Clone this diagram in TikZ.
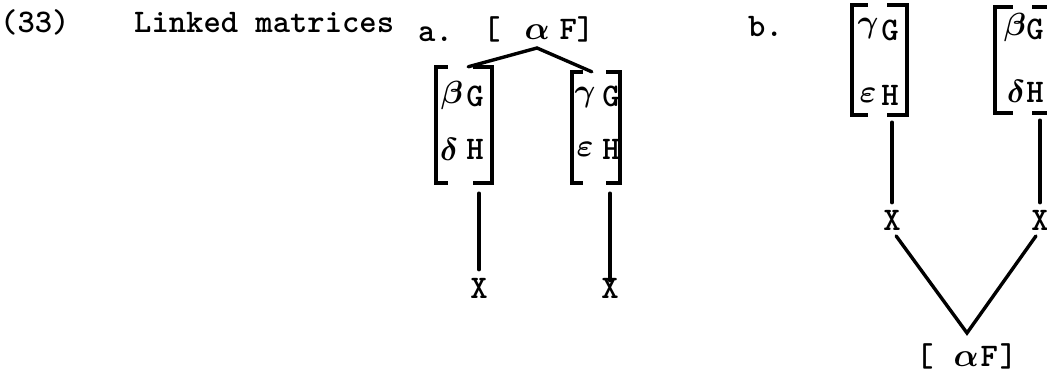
\RequirePackage{fix-cm}
\documentclass[tikz,border=0pt]{standalone}
\usepackage{fontspec}
\usepackage{bm}
\newfontfamily\tw{lmmonolt10-bold.otf}
\newcommand\mbrk[3]{%
  \draw[brk] ([xshift=#2]#1.north west) -- (#1.north west) -- (#1.south west) -- ([xshift=#2]#1.south west);
  \draw[brk] ([xshift=-#3]#1.north east) -- (#1.north east) -- (#1.south east) -- ([xshift=-#3]#1.south east);}
\newcommand\gr[1]{$\bm{#1}$}
\begin{document}
\begin{tikzpicture}[x=1pt,y=-1pt,
  txt/.style={font=\fontsize{33}{36}\selectfont\tw, inner sep=0pt},
  ent/.style={txt, anchor=center},
  grk/.style={inner sep=0pt, anchor=center, font=\fontsize{32}{35}\selectfont},
  brk/.style={line width=4.4pt},
  conn/.style={line width=3.4pt, line cap=round},
  matbox/.style={inner sep=0pt, draw=none}]
\useasboundingbox (0,0) rectangle (1047,374);

% titles
\node[txt, anchor=base west] (num) at (0,33) {(33)};
\node[txt, anchor=base west] (title) at (134,33) {Linked matrices};
\node[txt, anchor=base west] (la) at (418,42) {a.};
\node[txt, anchor=base west] (lb) at (748,37) {b.};

% ---- a ----
\node[txt, anchor=base west] (topA) at (483,40) {[\hspace{24pt}\gr{\alpha}\hspace{10pt}F]};
\node[matbox, minimum width=56pt, minimum height=116pt] (A1) at (464,125) {};
\node[matbox, minimum width=48pt, minimum height=111pt] (A2) at (596,127.5) {};
\mbrk{A1}{12}{19}
\mbrk{A2}{11}{14}
\node[grk] (A1b) at (452,96) {\gr{\beta}};
\node[ent] (A1g) at (475,96) {G};
\node[grk] (A1d) at (449,149) {\gr{\delta}};
\node[ent] (A1h) at (475,149) {H};
\node[grk] (A2g) at (585,98) {\gr{\gamma}};
\node[ent] (A2G) at (611,96) {G};
\node[grk] (A2e) at (585,149) {\gr{\varepsilon}};
\node[ent] (A2h) at (611,149) {H};
\node[ent] (xA1) at (479,288) {X};
\node[ent] (xA2) at (610,288) {X};
\coordinate (pkA) at (537,48);
\draw[conn] ([xshift=-24]A1.north east) -- (pkA) -- ([xshift=20]A2.north west);
\draw[conn, shorten <=10pt, shorten >=8pt] (xA1.north |- A1.south) -- (xA1.north);
\draw[conn, shorten <=10pt, shorten >=-3pt] (xA2.north |- A2.south) -- (xA2.north);

% ---- b ----
\node[matbox, minimum width=55pt, minimum height=110pt] (B1) at (879.5,60) {};
\node[matbox, minimum width=54pt, minimum height=106pt] (B2) at (1022,60) {};
\mbrk{B1}{16}{20}
\mbrk{B2}{18}{17}
\node[grk] (B1g) at (868,29) {\gr{\gamma}};
\node[ent] (B1G) at (890,30) {G};
\node[grk] (B1e) at (868,95) {\gr{\varepsilon}};
\node[ent] (B1h) at (890,95) {H};
\node[grk] (B2b) at (1015,28) {\gr{\beta}};
\node[ent] (B2G) at (1035,29) {G};
\node[grk] (B2d) at (1016,91) {\gr{\delta}};
\node[ent] (B2h) at (1035,92) {H};
\node[ent] (xB1) at (892,220) {X};
\node[ent] (xB2) at (1040,220) {X};
\draw[conn, shorten <=7pt, shorten >=7pt] (xB1.north |- B1.south) -- (xB1.north);
\draw[conn, shorten <=7pt, shorten >=7pt] (xB2.north |- B2.south) -- (xB2.north);
\node[txt, anchor=base west] (botB) at (916,366) {[\hspace{20pt}\gr{\alpha}\hspace{2pt}F\hspace{2pt}]};
\coordinate (pkB) at (967,333);
\draw[conn, shorten <=7pt, shorten >=7pt] (xB1.south) -- (pkB) -- (xB2.south);
\end{tikzpicture}
\end{document}
